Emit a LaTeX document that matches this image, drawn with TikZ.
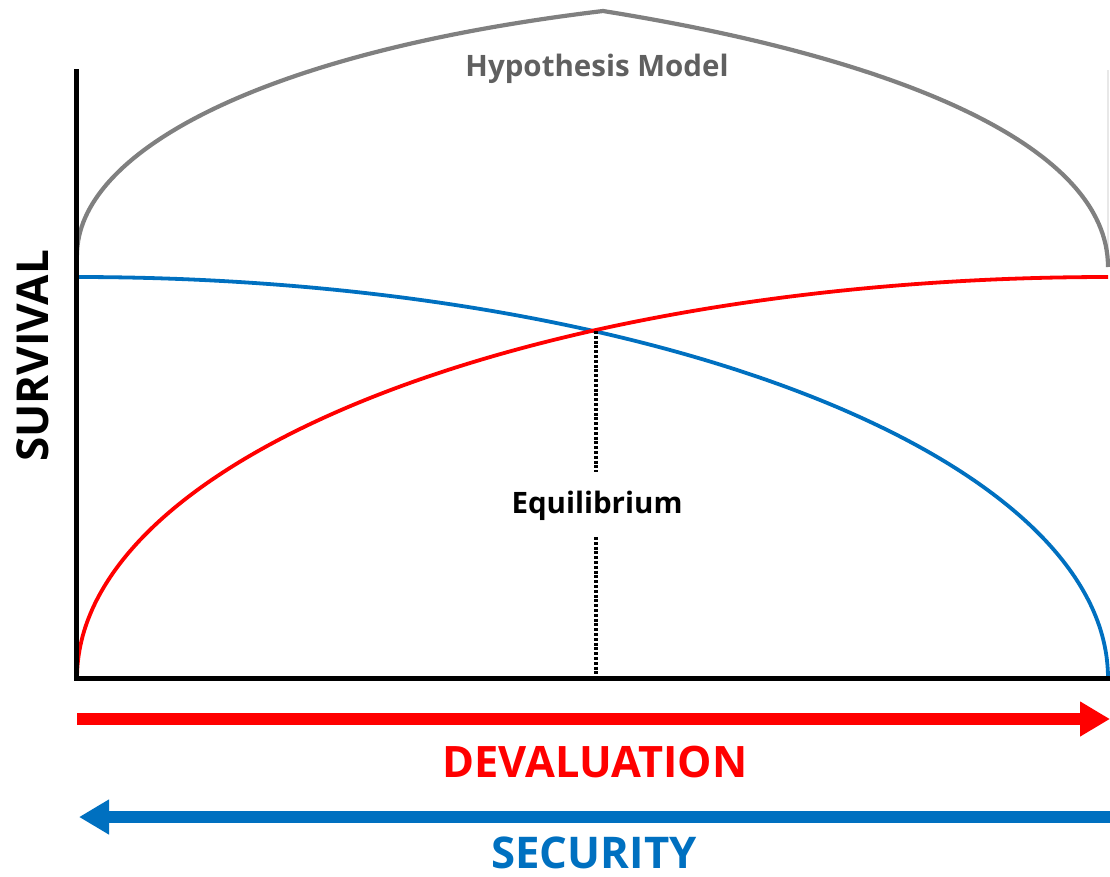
\documentclass[tikz,border=0pt]{standalone}
\usepackage{fontspec}
\setmainfont{Open Sans}
\usetikzlibrary{arrows.meta}
\definecolor{cred}{RGB}{255,0,0}
\definecolor{cblue}{RGB}{0,112,192}
\definecolor{cgray}{RGB}{128,128,128}
\definecolor{tgray}{RGB}{96,96,96}
\tikzset{
  axisline/.style={line width=5pt, black, line join=miter},
  curveline/.style={line width=3.8pt},
  bigarrow/.style={line width=12pt, -{Triangle[length=30pt,width=33pt]}},
  lbl/.style={font=\bfseries, anchor=base, inner sep=0pt},
  eqline/.style={line width=3.6pt, dash pattern=on 3pt off 1.8pt}
}
\begin{document}
\begin{tikzpicture}[x=1pt,y=-1pt]
\useasboundingbox (0,0) rectangle (1110,876);
% faint right frame line
\draw[gray!18, line width=2pt] (1108,70) -- (1108,265);
% hypothesis curve
\coordinate (hL) at (77,255);
\coordinate (hP) at (603,11);
\coordinate (hR) at (1108,267);
\draw[cgray, line width=4.2pt, line join=miter]
  (hL) .. controls (77,155) and (253,53) .. (hP)
       .. controls (903,59) and (1108,147) .. (hR);
\node[lbl, text=tgray, font=\bfseries\fontsize{29.5}{31}\selectfont] (hyp) at (597,76) {Hypothesis Model};
% blue and red curves
\draw[cblue, curveline] plot[domain=0:90, samples=90, smooth] ({77+1031*sin(\x)}, {678-401*cos(\x)});
\draw[cred, curveline] plot[domain=0:90, samples=90, smooth] ({1108-1031*sin(\x)}, {678-401*cos(\x)});
% equilibrium
\coordinate (cross) at (596,331);
\coordinate (eqtop) at (596,472);
\coordinate (eqbot) at (596,537);
\coordinate (eqbase) at (596,676);
\draw[eqline] (cross) -- (eqtop);
\draw[eqline] (eqbot) -- (eqbase);
\node[lbl, font=\bfseries\fontsize{29.5}{31}\selectfont] (eq) at (597,513) {Equilibrium};
% axes
\coordinate (ytop) at (76,69);
\coordinate (orig) at (76,678);
\coordinate (xend) at (1110,678);
\draw[axisline] (ytop) -- (orig) -- (xend);
\node[lbl, rotate=90, font=\bfseries\fontsize{44}{46}\selectfont] (surv) at (48,356) {SURVIVAL};
% arrows
\coordinate (ra) at (77,719);
\coordinate (rb) at (1110,719);
\draw[cred, bigarrow] (ra) -- (rb);
\node[lbl, text=cred, font=\bfseries\fontsize{43.3}{46}\selectfont] (dev) at (595,777) {DEVALUATION};
\coordinate (ba) at (1110,817);
\coordinate (bb) at (79,817);
\draw[cblue, bigarrow] (ba) -- (bb);
\node[lbl, text=cblue, font=\bfseries\fontsize{43.7}{46}\selectfont] (sec) at (594,868) {SECURITY};
\end{tikzpicture}
\end{document}
